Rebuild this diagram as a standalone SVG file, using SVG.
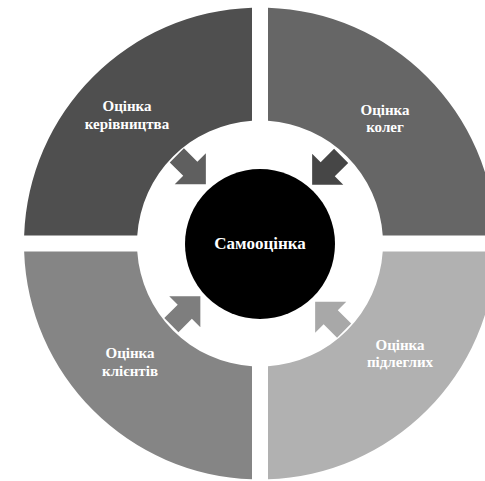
<svg xmlns="http://www.w3.org/2000/svg" width="485" height="481" viewBox="0 0 485 481">
  <defs>
    <style>
      .lbl { font-family: "Liberation Serif", "Times New Roman", serif; font-weight: bold; fill: #ffffff; text-anchor: middle; }
      .q { font-size: 15px; }
      .core { font-size: 17px; }
    </style>
    <!-- block arrow pointing along +x, centred on the origin -->
    <path id="blockArrow" d="M-20,-10 L-1,-10 L-1,-22 L21,0 L-1,22 L-1,10 L-20,10 Z"/>
  </defs>

  <rect x="0" y="0" width="485" height="481" fill="#ffffff"/>

  <!-- ring quadrants: centre (260,243.5), outer r 236, inner r 123, 16px gaps -->
  <g id="node-management">
    <path d="M252,7.64 A236,236 0 0 0 24.14,235.5 L137.26,235.5 A123,123 0 0 1 252,120.76 Z" fill="#4f4f4f"/>
    <text class="lbl q" x="127" y="111">Оцінка</text>
    <text class="lbl q" x="127" y="129">керівництва</text>
  </g>

  <g id="node-colleagues">
    <path d="M268,7.64 A236,236 0 0 1 495.86,235.5 L382.74,235.5 A123,123 0 0 0 268,120.76 Z" fill="#666666"/>
    <text class="lbl q" x="385" y="115">Оцінка</text>
    <text class="lbl q" x="385" y="132">колег</text>
  </g>

  <g id="node-clients">
    <path d="M252,479.36 A236,236 0 0 1 24.14,251.5 L137.26,251.5 A123,123 0 0 0 252,366.24 Z" fill="#858585"/>
    <text class="lbl q" x="130" y="358">Оцінка</text>
    <text class="lbl q" x="130" y="375.5">клієнтів</text>
  </g>

  <g id="node-subordinates">
    <path d="M495.86,251.5 A236,236 0 0 1 268,479.36 L268,366.24 A123,123 0 0 0 382.74,251.5 Z" fill="#b1b1b1"/>
    <text class="lbl q" x="400" y="349.5">Оцінка</text>
    <text class="lbl q" x="400" y="366.5">підлеглих</text>
  </g>

  <g id="node-self">
    <circle cx="260" cy="244" r="75" fill="#000000"/>
    <text class="lbl core" x="260" y="248.5">Самооцінка</text>
  </g>

  <!-- arrows from each quadrant towards the centre -->
  <g id="connectors">
    <use href="#blockArrow" transform="translate(191,169.5) rotate(45)" fill="#5f5f5f"/>
    <use href="#blockArrow" transform="translate(327,170) rotate(135)" fill="#464646"/>
    <use href="#blockArrow" transform="translate(185.5,311) rotate(-45)" fill="#7e7e7e"/>
    <use href="#blockArrow" transform="translate(330,316.5) rotate(-135)" fill="#a8a8a8"/>
  </g>
</svg>
